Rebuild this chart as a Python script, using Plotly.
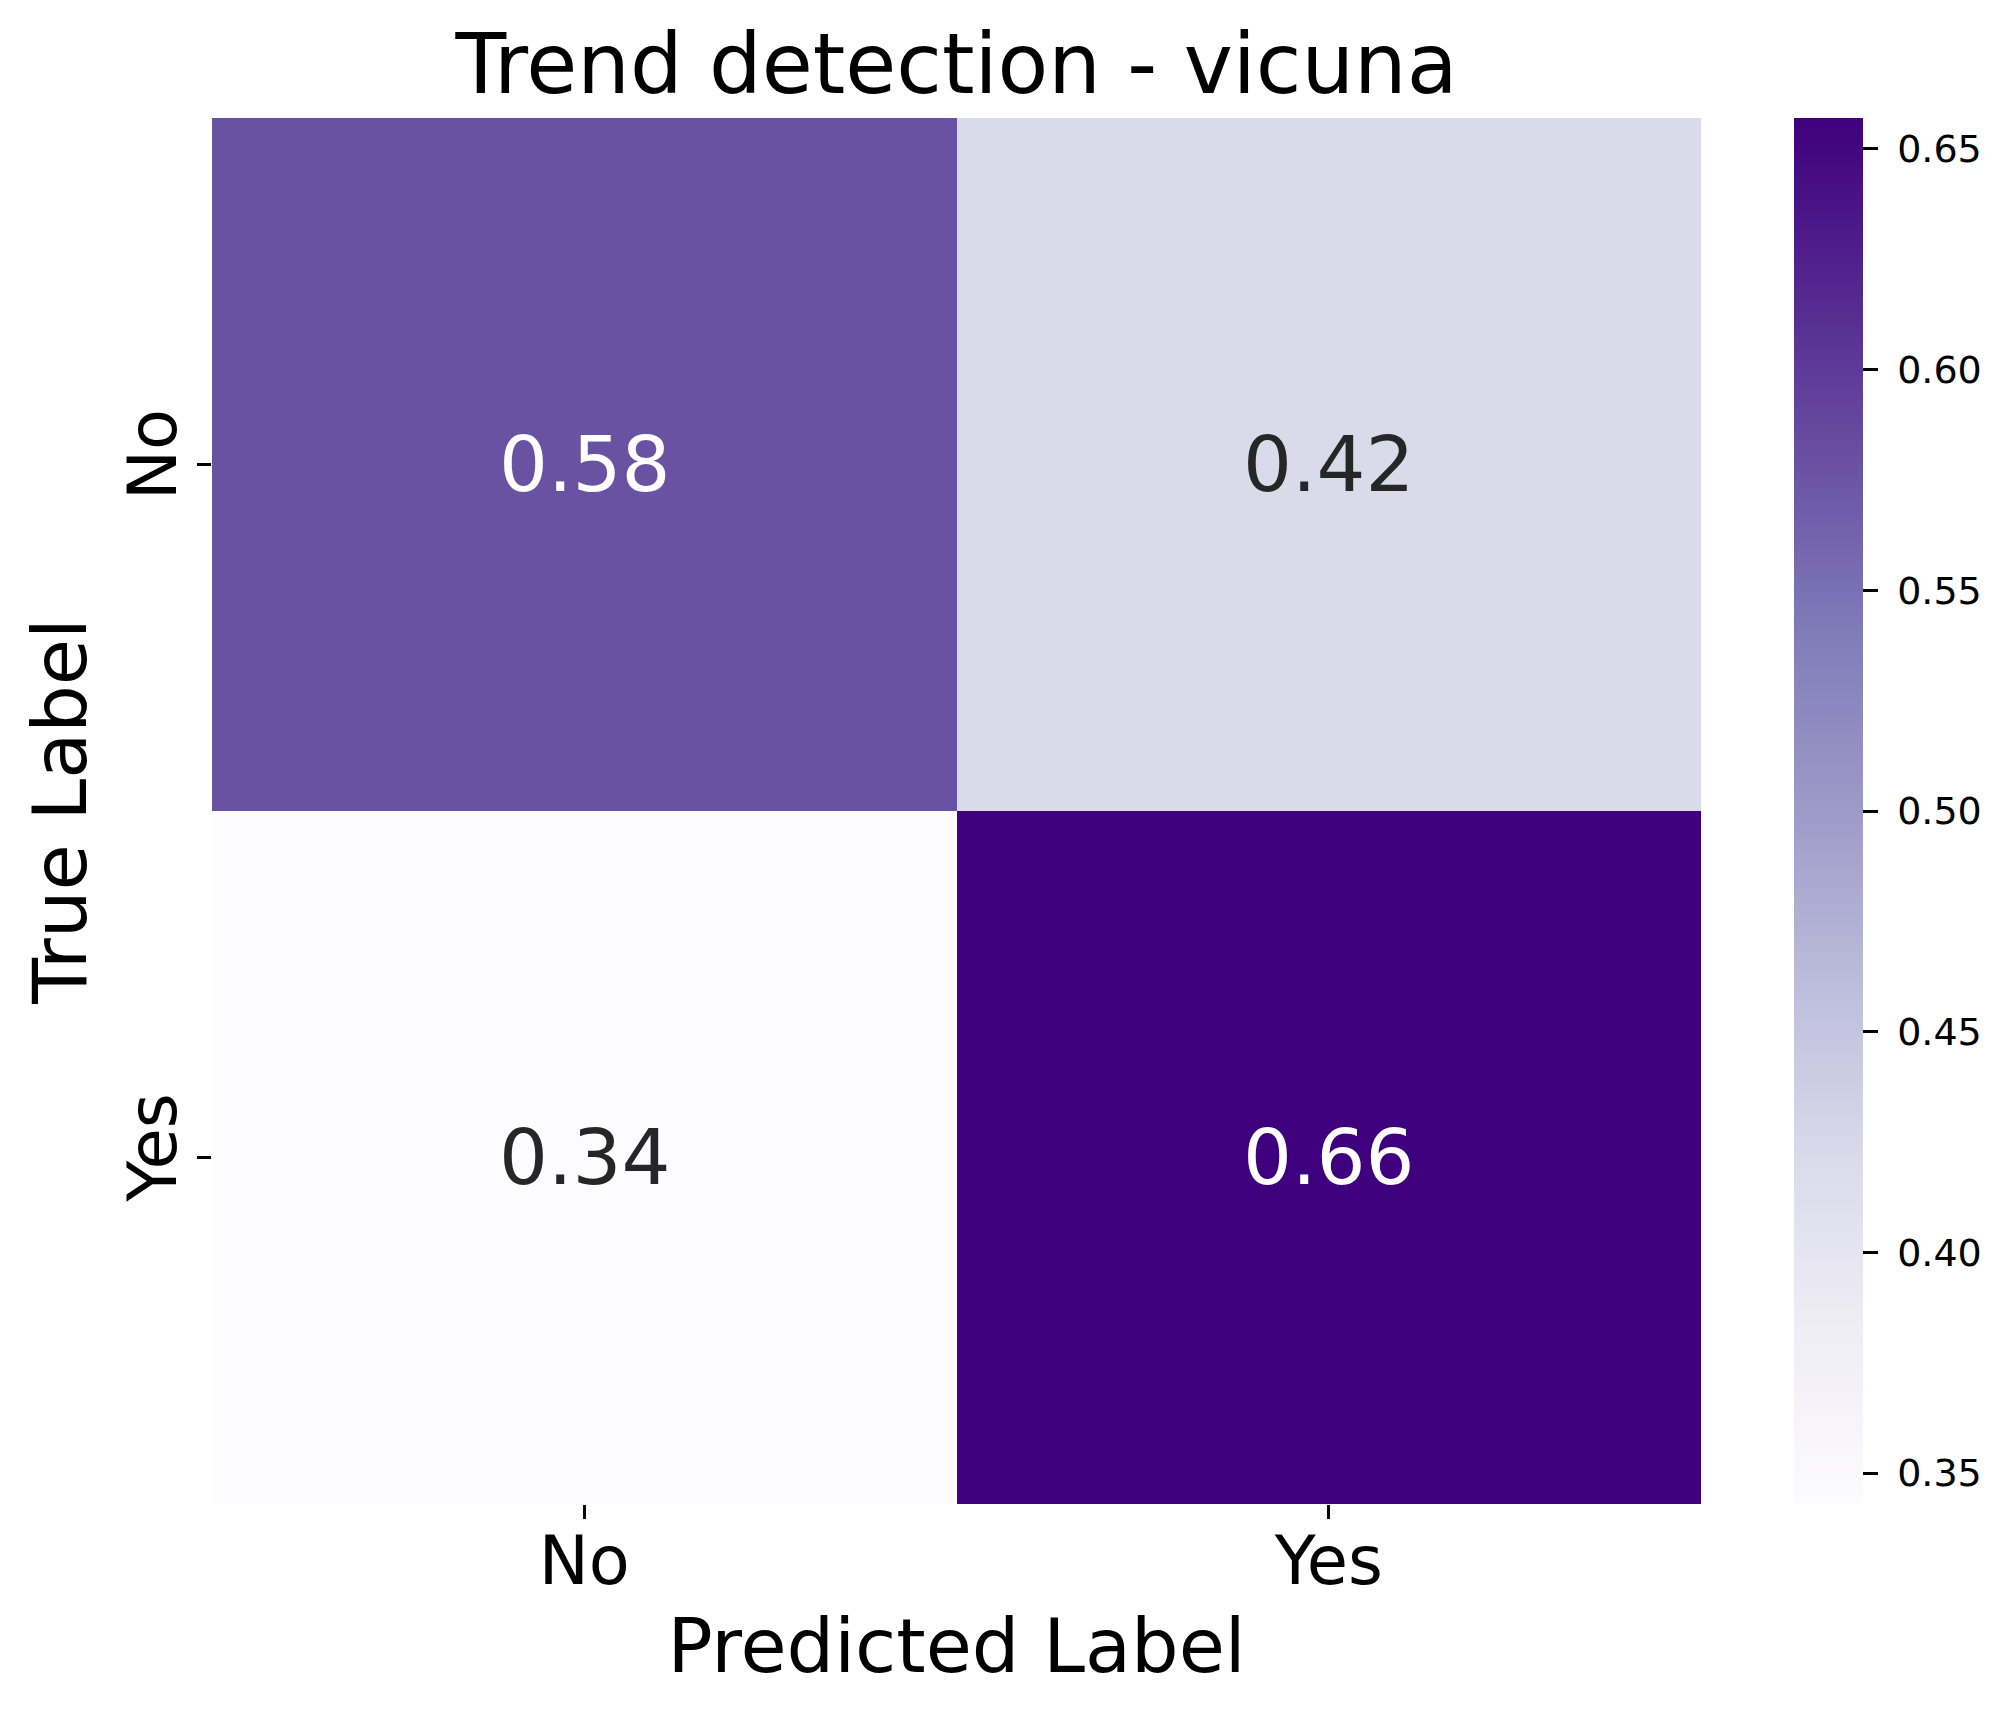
import plotly.graph_objects as go

# confusion matrix (row-normalised)
labels = ["No", "Yes"]
row_no = [0.578, 0.422]
row_yes = [0.343, 0.657]
cbar_ticks = [0.35, 0.40, 0.45, 0.50, 0.55, 0.60, 0.65]

z = [row_no, row_yes]
zmin = min(min(r) for r in z)
zmax = max(max(r) for r in z)

purples = [
    "#fcfbfd", "#efedf5", "#dadaeb", "#bcbddc", "#9e9ac8",
    "#807dba", "#6a51a3", "#54278f", "#3f007d",
]
cscale = [[i / (len(purples) - 1), c] for i, c in enumerate(purples)]

font = "DejaVu Sans"

fig = go.Figure()
fig.add_trace(go.Heatmap(
    z=z, x=labels, y=labels,
    zmin=zmin, zmax=zmax,
    colorscale=cscale,
    xgap=0, ygap=0,
    hoverinfo="skip",
    colorbar=dict(
        x=1.0625, xanchor="left", xref="paper", xpad=0, ypad=0,
        thickness=69, thicknessmode="pixels",
        len=1, lenmode="fraction", y=0.5, yanchor="middle",
        outlinewidth=0,
        tickvals=cbar_ticks,
        # nbsp pushes the labels a bit off the ticks, like matplotlib's pad
        ticktext=["\u00a0" + f"{t:.2f}" for t in cbar_ticks],
        ticks="outside", ticklen=15, tickwidth=2.5, tickcolor="black",
        tickfont=dict(family=font, size=38, color="black"),
    ),
))

# cell annotations, white on dark cells
mid = (zmin + zmax) / 2
for i, ylab in enumerate(labels):
    for j, xlab in enumerate(labels):
        v = z[i][j]
        fig.add_annotation(
            x=xlab, y=ylab, text=f"{v:.2f}", showarrow=False,
            font=dict(family=font, size=77,
                      color="white" if v > mid else "#262626"),
        )

# page body has an 8px margin, so the figure is 8px smaller
fig.update_layout(
    width=2007, height=1709,
    margin=dict(l=204, r=314, t=110, b=213),
    paper_bgcolor="white", plot_bgcolor="white",
    font=dict(family=font, color="black"),
    title=dict(
        text="Trend detection - vicuna",
        x=(204 + 1693) / 2 / 2007, xanchor="center",
        y=1 - 56 / 1709, yanchor="middle", yref="container",
        font=dict(family=font, size=83, color="black"),
    ),
)
fig.update_xaxes(
    title=dict(text="Predicted Label", font=dict(size=75, color="black"), standoff=20),
    tickfont=dict(size=67, color="black"), ticklabelstandoff=-15,
    ticks="outside", ticklen=14, tickwidth=2.5, tickcolor="black",
    showline=False, showgrid=False, zeroline=False, automargin=False,
)
fig.update_yaxes(
    title=dict(text="True Label", font=dict(size=75, color="black"), standoff=2),
    tickfont=dict(size=67, color="black"), tickangle=-90, ticklabelstandoff=-6,
    ticks="outside", ticklen=14, tickwidth=2.5, tickcolor="black",
    autorange="reversed",
    showline=False, showgrid=False, zeroline=False, automargin=False,
)

fig.write_html("out.html")
